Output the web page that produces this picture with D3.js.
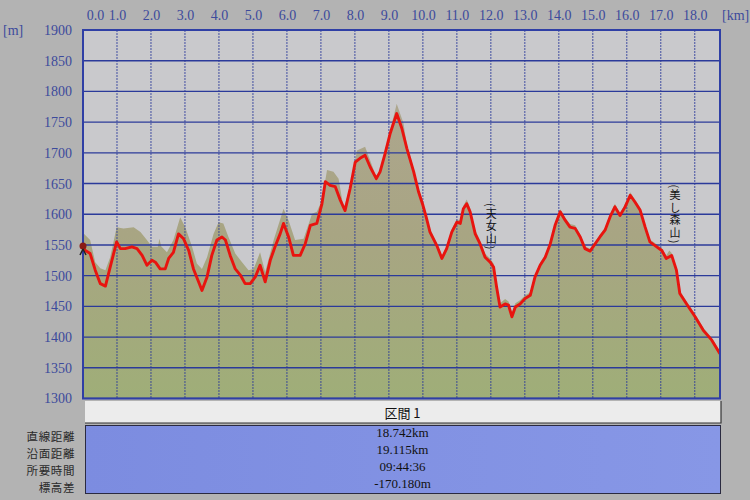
<!DOCTYPE html>
<html>
<head>
<meta charset="utf-8">
<script src="https://cdn.jsdelivr.net/npm/d3@7"></script>
<style>
  html, body { margin: 0; padding: 0; background: #b3b3b3; }
  svg { display: block; }
</style>
</head>
<body>
<svg id="chart" width="750" height="500"></svg>
<script>
// ---- data ----
const trackKm = [0.00,0.07,0.21,0.36,0.51,0.66,0.80,0.99,1.10,1.24,1.44,1.59,1.74,1.88,2.03,2.13,2.27,2.42,2.52,2.66,2.81,2.96,3.11,3.25,3.40,3.50,3.65,3.79,3.94,4.09,4.19,4.33,4.48,4.63,4.77,4.92,5.07,5.21,5.36,5.51,5.65,5.80,5.90,6.05,6.19,6.39,6.54,6.69,6.88,7.03,7.13,7.27,7.42,7.57,7.71,7.86,8.01,8.15,8.30,8.45,8.63,8.74,8.89,9.04,9.23,9.38,9.53,9.73,9.87,10.00,10.10,10.21,10.41,10.56,10.70,10.85,11.00,11.10,11.19,11.29,11.39,11.54,11.68,11.83,11.98,12.08,12.17,12.27,12.42,12.52,12.62,12.72,12.86,13.01,13.16,13.30,13.45,13.60,13.75,13.89,14.04,14.19,14.33,14.48,14.63,14.77,14.92,15.07,15.21,15.36,15.51,15.65,15.80,15.95,16.10,16.24,16.39,16.54,16.68,16.88,17.03,17.16,17.32,17.46,17.56,17.76,18.01,18.25,18.50,18.74];
const trackElev = [1545,1541,1536,1509,1487,1483,1514,1555,1544,1544,1547,1544,1533,1517,1525,1522,1511,1511,1528,1538,1568,1560,1541,1511,1490,1476,1498,1533,1558,1563,1558,1533,1511,1501,1487,1487,1498,1517,1490,1525,1547,1568,1585,1563,1533,1533,1552,1582,1585,1617,1653,1647,1645,1623,1606,1642,1685,1691,1696,1677,1658,1669,1699,1732,1764,1740,1707,1669,1637,1615,1595,1571,1549,1528,1544,1571,1587,1585,1609,1617,1604,1568,1552,1530,1522,1514,1481,1449,1454,1452,1433,1449,1454,1463,1468,1498,1517,1530,1552,1582,1604,1590,1579,1577,1563,1544,1540,1552,1563,1574,1596,1612,1598,1612,1631,1620,1607,1579,1555,1547,1541,1528,1533,1509,1471,1454,1433,1411,1395,1373];

const terrainKm = [0.00,0.07,0.21,0.36,0.51,0.66,0.80,0.99,1.19,1.49,1.69,1.88,2.03,2.20,2.25,2.30,2.47,2.66,2.86,3.01,3.21,3.35,3.50,3.65,3.84,3.99,4.13,4.28,4.48,4.68,4.87,5.02,5.21,5.36,5.61,5.90,6.05,6.24,6.49,6.74,6.88,7.03,7.18,7.37,7.52,7.67,7.86,8.06,8.30,8.50,8.63,8.80,9.04,9.23,9.43,9.53,9.73,9.87,10.00,10.10,10.21,10.41,10.56,10.70,10.85,11.00,11.10,11.19,11.29,11.39,11.54,11.68,11.83,11.98,12.08,12.17,12.27,12.42,12.52,12.62,12.72,12.86,13.01,13.16,13.30,13.45,13.60,13.75,13.89,14.04,14.19,14.33,14.48,14.63,14.77,14.92,15.07,15.21,15.36,15.51,15.65,15.80,15.95,16.10,16.24,16.39,16.54,16.68,16.88,17.03,17.16,17.25,17.32,17.46,17.56,17.76,18.01,18.25,18.50,18.74];
const terrainElev = [1570,1566,1558,1522,1512,1509,1530,1579,1577,1579,1571,1558,1547,1547,1560,1548,1538,1558,1595,1579,1547,1520,1511,1530,1568,1587,1585,1563,1536,1522,1509,1511,1538,1506,1558,1609,1590,1558,1560,1601,1604,1623,1672,1669,1658,1609,1645,1704,1710,1680,1660,1680,1737,1780,1748,1712,1674,1642,1620,1600,1576,1553,1532,1548,1576,1592,1590,1614,1624,1610,1574,1558,1536,1528,1520,1486,1455,1462,1458,1440,1455,1460,1468,1473,1502,1521,1534,1556,1586,1608,1594,1584,1582,1567,1548,1544,1556,1567,1578,1600,1617,1602,1617,1636,1624,1611,1583,1559,1551,1545,1533,1541,1537,1513,1475,1458,1437,1415,1399,1377];

const xTicks = [0,1,2,3,4,5,6,7,8,9,10,11,12,13,14,15,16,17,18];
const yTicks = [1300,1350,1400,1450,1500,1550,1600,1650,1700,1750,1800,1850,1900];
const peakNames = [{km: 11.95, label: "(天女山)"}, {km: 17.36, label: "(美し森山)"}];
const rowLabels = ["直線距離","沿面距離","所要時間","標高差"];
const rowValues = ["18.742km","19.115km","09:44:36","-170.180m"];
const sectionTitle = "区間 1";

// ---- layout ----
const svg = d3.select("#chart");
const L = 83, R = 720, T = 30, B = 398.5;
const x = d3.scaleLinear().domain([0, 18.742]).range([L, R]);
const y = d3.scaleLinear().domain([1300, 1900]).range([B, T]);
const blue = "#2b3a9a", labBlue = "#3c4a9c";

const defs = svg.append("defs");
const grad = defs.append("linearGradient").attr("id","fillg").attr("x1",0).attr("x2",0)
  .attr("gradientUnits","userSpaceOnUse").attr("y1",100).attr("y2",B);
grad.append("stop").attr("offset",0).attr("stop-color","#ada68e");
grad.append("stop").attr("offset",0.45).attr("stop-color","#a8a583");
grad.append("stop").attr("offset",1).attr("stop-color","#9fae78");
const bg = defs.append("linearGradient").attr("id","boxg").attr("x1",0).attr("x2",1).attr("y1",0).attr("y2",0);
bg.append("stop").attr("offset",0).attr("stop-color","#7c8ce0");
bg.append("stop").attr("offset",1).attr("stop-color","#8797e6");
defs.append("clipPath").attr("id","clip").append("rect").attr("x",L).attr("y",T).attr("width",R-L).attr("height",B-T);

// plot background
svg.append("rect").attr("x",L).attr("y",T).attr("width",R-L).attr("height",B-T).attr("fill","#c9c9cc");

const g = svg.append("g").attr("clip-path","url(#clip)");
const terrain = terrainKm.map((k,i)=>[k, terrainElev[i]]);
const track = trackKm.map((k,i)=>[k, trackElev[i]]);

g.append("path").datum(terrain)
  .attr("d", d3.area().x(d=>x(d[0])).y0(B).y1(d=>y(d[1])))
  .attr("fill","url(#fillg)");

// grid
g.selectAll(".hg").data(yTicks).join("line")
  .attr("x1",L).attr("x2",R).attr("y1",d=>y(d)).attr("y2",d=>y(d))
  .attr("stroke",blue).attr("stroke-width",1.4);
g.selectAll(".vg").data(xTicks.slice(1)).join("line")
  .attr("x1",d=>x(d)).attr("x2",d=>x(d)).attr("y1",T).attr("y2",B)
  .attr("stroke",blue).attr("stroke-width",1).attr("stroke-dasharray","2,1").attr("opacity",0.85);

// track line
g.append("path").datum(track)
  .attr("d", d3.line().x(d=>x(d[0])).y(d=>y(d[1])))
  .attr("fill","none").attr("stroke","#e8140f").attr("stroke-width",2.9).attr("stroke-linejoin","round");

// border
svg.append("rect").attr("x",L).attr("y",T).attr("width",R-L).attr("height",B-T)
  .attr("fill","none").attr("stroke","#2f3fa5").attr("stroke-width",2);

// axes
const yAxis = d3.axisLeft(y).tickValues(yTicks).tickSize(0).tickPadding(11).tickFormat(d3.format("d"));
const ya = svg.append("g").attr("transform",`translate(${L},0)`).call(yAxis);
ya.select(".domain").remove();
ya.selectAll("text").attr("fill",labBlue).style("font-family","Liberation Serif, serif").style("font-size","14px");

const xAxis = d3.axisTop(x).tickValues(xTicks).tickSize(0).tickPadding(10).tickFormat(d3.format(".1f"));
const xa = svg.append("g").attr("transform",`translate(0,${T})`).call(xAxis);
xa.select(".domain").remove();
xa.selectAll("text").attr("fill",labBlue).style("font-family","Liberation Serif, serif").style("font-size","14px");
xa.selectAll(".tick").filter(d=>d===0).select("text").attr("dx", 12);

svg.append("text").attr("x",3).attr("y",35).text("[m]").attr("fill",labBlue)
  .style("font-family","Liberation Serif, serif").style("font-size","14px");
svg.append("text").attr("x",722).attr("y",20).text("[km]").attr("fill",labBlue)
  .style("font-family","Liberation Serif, serif").style("font-size","14px");

// start marker (hiker)
const sx = x(trackKm[0]), sy = y(trackElev[0]);
svg.append("circle").attr("cx",sx).attr("cy",sy-2).attr("r",3.5).attr("fill","#8a1a14");
svg.append("path").attr("d",`M${sx} ${sy+1} L${sx-3} ${sy+7} M${sx} ${sy+1} L${sx+3} ${sy+7}`)
  .attr("stroke","#222").attr("stroke-width",1.5);

// peak labels (vertical, one text each)
const cjk = "'Noto Sans CJK JP', sans-serif";
const peakTop = [203, 184.5];
peakNames.forEach((p,pi)=>{
  svg.append("text")
    .attr("x", x(p.km) + 2).attr("y", peakTop[pi])
    .style("writing-mode","vertical-rl")
    .style("font-family",cjk).style("font-size","11px").style("letter-spacing","1.5px")
    .attr("fill","#111")
    .text(p.label);
});

// table
svg.append("rect").attr("x",85).attr("y",401).attr("width",636).attr("height",22).attr("fill","#ececec");
svg.append("path").attr("d","M85 423 H721 V401").attr("fill","none").attr("stroke","#333").attr("stroke-width",1.2);
svg.append("text").attr("x",402.5).attr("y",418).attr("text-anchor","middle").text(sectionTitle)
  .attr("fill","#111").style("font-family",cjk).style("font-size","13px");
svg.append("rect").attr("x",85.5).attr("y",425.5).attr("width",635).attr("height",68)
  .attr("fill","url(#boxg)").attr("stroke","#2a2a40").attr("stroke-width",1);
const rowY = [437, 454, 471, 488];
svg.selectAll(".rv").data(rowValues).join("text")
  .attr("x",402.5).attr("y",(d,i)=>rowY[i]).attr("text-anchor","middle").text(d=>d)
  .attr("fill","#111").style("font-family","Liberation Serif, serif").style("font-size","13px");
svg.selectAll(".rl").data(rowLabels).join("text")
  .attr("x",75).attr("y",(d,i)=>rowY[i]+4).attr("text-anchor","end").text(d=>d)
  .attr("fill","#2a2a2a").style("font-family",cjk).style("font-size","11.5px").style("letter-spacing","0.6px");
</script>
</body>
</html>
